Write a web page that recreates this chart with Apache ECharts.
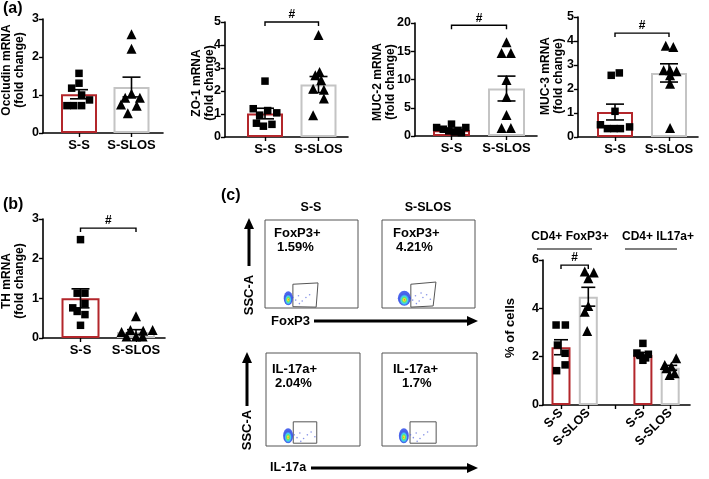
<!DOCTYPE html>
<html><head><meta charset="utf-8">
<script src="https://cdn.jsdelivr.net/npm/echarts@6/dist/echarts.min.js"></script>
<style>html,body{margin:0;padding:0;background:#fff}#c{width:709px;height:479px}</style>
</head><body><div id="c"></div>
<script>
// ================= DATA =================
const groups = ['S-S', 'S-SLOS'];

// (a) Occludin
const occludinTicks = [0, 1, 2, 3];
const occludinMean = [1.02, 1.21];
const occludinSem = [0.12, 0.26];
const occludinSS = [1.57, 1.31, 1.18, 1.0, 0.87, 0.72, 0.72, 0.72];
const occludinSSjit = [0, 0, -0.14, 0.05, 0.2, -0.23, -0.1, 0.05];
const occludinSL = [2.6, 2.22, 1.03, 0.93, 0.93, 0.75, 0.72, 0.52];
const occludinSLjit = [0, 0, 0, -0.12, 0.16, -0.2, 0.1, -0.07];

// (a) ZO-1
const zo1Ticks = [0, 1, 2, 3, 4, 5];
const zo1Mean = [1.02, 2.28];
const zo1Sem = [0.23, 0.35];
const zo1SS = [2.43, 1.23, 1.15, 1.05, 0.95, 0.6, 0.47, 0.55];
const zo1SSjit = [0, -0.22, 0.05, 0.22, -0.1, -0.16, -0.03, 0.13];
const zo1SL = [4.43, 2.83, 2.69, 2.47, 2.1, 2.05, 1.67, 0.95];
const zo1SLjit = [0, 0.02, -0.06, 0.05, -0.1, 0.1, 0.1, -0.1];
const zo1Sig = [1, 2, 5.0];

// (a) MUC-2
const muc2Ticks = [0, 5, 10, 15, 20];
const muc2Mean = [1.0, 8.4];
const muc2Sem = [0.2, 2.2];
const muc2SS = [1.5, 1.2, 2.1, 1.0, 1.5, 0.9, 0.7, 0.6];
const muc2SSjit = [-0.27, -0.15, 0, 0.12, 0.26, -0.05, 0.05, 0.18];
const muc2SL = [16.6, 14.7, 14.7, 9.9, 6.9, 3.7, 1.4, 1.4];
const muc2SLjit = [0, -0.09, 0.08, 0, 0, 0, -0.09, 0.08];
const muc2Sig = [1, 2, 19.6];

// (a) MUC-3
const muc3Ticks = [0, 1, 2, 3, 4, 5];
const muc3Mean = [1.04, 2.67];
const muc3Sem = [0.33, 0.38];
const muc3SS = [2.67, 2.57, 1.07, 0.51, 0.42, 0.35, 0.35, 0.35];
const muc3SSjit = [0.08, -0.07, 0, -0.27, 0.27, -0.14, -0.02, 0.1];
const muc3SL = [3.8, 3.75, 2.78, 2.78, 2.74, 2.57, 2.22, 0.38];
const muc3SLjit = [-0.06, 0.08, -0.1, 0.02, 0.14, 0.02, 0.02, 0.02];
const muc3Sig = [1, 2, 4.33];

// (b) TH
const thTicks = [0, 1, 2, 3];
const thMean = [1.0, 0.15];
const thSem = [0.24, 0.06];
const thSS = [2.48, 1.13, 1.13, 0.87, 0.76, 0.67, 0.59, 0.32];
const thSSjit = [0, -0.06, 0.08, 0.08, -0.14, -0.06, 0.08, 0];
const thSL = [0.55, 0.15, 0.2, 0.18, 0.2, 0.04, 0.04, 0.04];
const thSLjit = [0, -0.26, -0.1, 0.13, 0.3, -0.17, 0, 0.12];
const thSig = [1, 2, 2.77];

// (c) % of cells
const cellTicks = [0, 2, 4, 6];
const cellGroups = ['CD4+ FoxP3+', 'CD4+ IL17a+'];
const cellLabels = ['S-S', 'S-SLOS', 'S-S', 'S-SLOS'];
const cellMean = [2.39, 4.48, 2.07, 1.54];
const cellSem = [0.31, 0.39, 0.1, 0.1];
const foxSS = [3.31, 3.31, 2.48, 2.14, 1.66, 1.42];
const foxSSjit = [-0.18, 0.16, -0.13, 0.15, 0.15, -0.16];
const foxSL = [5.52, 5.48, 5.24, 4.1, 3.86, 3.06];
const foxSLjit = [-0.13, 0.2, 0, 0, -0.13, -0.04];
const il17SS = [2.55, 2.15, 2.1, 2.05, 1.95, 1.85];
const il17SSjit = [0, -0.22, 0.2, -0.1, 0.1, 0];
const il17SL = [1.93, 1.66, 1.59, 1.52, 1.31, 1.24];
const il17SLjit = [0.22, -0.2, 0.04, -0.14, 0.16, -0.02];
const cellSig = [1, 2, 5.79];

// (c) flow plots
const flowTitles = ['S-S', 'S-SLOS'];
const flowMarkers = ['FoxP3+', 'FoxP3+', 'IL-17a+', 'IL-17a+'];
const flowPct = ['1.59%', '4.21%', '2.04%', '1.7%'];
const flowGates = [
  [[30, 27], [57, 28.5], [55, 1], [30, 1.5], [30, 27]],
  [[31, 27], [58, 29.5], [55, 2.3], [31, 1], [31, 27]],
  [[29, 26], [54, 26], [54, 3], [29, 3], [29, 26]],
  [[29.5, 26], [57, 26], [57, 3], [29.5, 3], [29.5, 26]]
];
const flowBlob = [[25, 11], [24, 11], [23.5, 11], [23, 11]];
const flowBlobSize = [[9, 14], [13, 15], [10, 15], [10, 15]];
const flowEvents = [
  [[30, 12], [33, 9], [36, 14], [40, 8], [44, 12], [37, 5], [48, 15]],
  [[30, 12], [33, 9], [36, 14], [40, 8], [44, 12], [37, 5], [48, 15], [52, 10], [42, 17]],
  [[30, 12], [33, 9], [36, 14], [40, 8], [44, 12], [37, 5], [48, 15], [52, 10]],
  [[30, 12], [33, 9], [36, 14], [40, 8], [44, 12], [37, 5], [48, 15]]
];

// ================= LAYOUT / BUILD =================
const F = '"Liberation Sans", Arial, sans-serif';
const RED = '#b3262b', GREY = '#c4c4c4';
const grids = [], xAxes = [], yAxes = [], series = [];

function barPanel(lay, cfg) {
  const idx = grids.length;
  grids.push({left: lay.L, top: lay.top, width: lay.R - lay.L, height: lay.bottom - lay.top});
  const min = cfg.xs[0] - (lay.x0 - lay.L) / lay.unit;
  const max = min + (lay.R - lay.L) / lay.unit;
  xAxes.push({
    gridIndex: idx, type: 'value', min: min, max: max, splitLine: {show: false},
    axisLine: {show: true, onZero: false, lineStyle: {color: '#000', width: 1.6}},
    axisTick: {show: true, customValues: cfg.tickAt, length: 4, lineStyle: {color: '#000', width: 1.4}},
    axisLabel: {customValues: cfg.xs, color: '#000', fontFamily: F, fontWeight: 'bold',
      fontSize: cfg.labelSize, margin: cfg.labelMargin, rotate: cfg.rotate || 0,
      formatter: v => { const i = cfg.xs.indexOf(v); return i >= 0 ? cfg.labels[i] : ''; }}
  });
  const t = cfg.ticks;
  yAxes.push({
    gridIndex: idx, type: 'value', min: t[0], max: t[t.length - 1], interval: t[1] - t[0],
    splitLine: {show: false},
    axisLine: {show: true, lineStyle: {color: '#000', width: 1.6}},
    axisTick: {show: true, length: 4, lineStyle: {color: '#000', width: 1.4}},
    axisLabel: {color: '#000', fontFamily: F, fontWeight: 'bold', fontSize: 12.5, margin: 4}
  });
  series.push({
    type: 'bar', xAxisIndex: idx, yAxisIndex: idx, barWidth: lay.barW, silent: true, z: 2,
    data: cfg.xs.map((x, k) => ({value: [x, cfg.means[k]],
      itemStyle: {color: '#fff', borderColor: cfg.colors[k], borderWidth: 2}}))
  });
  cfg.pts.forEach(g => {
    series.push({
      type: 'scatter', xAxisIndex: idx, yAxisIndex: idx, symbol: g.sym, symbolSize: g.size,
      silent: true, z: 3, itemStyle: {color: '#000', opacity: 1},
      data: g.vals.map((v, k) => [g.x + g.jit[k], v])
    });
  });
  series.push({
    type: 'custom', xAxisIndex: idx, yAxisIndex: idx, silent: true, z: 4, clip: false,
    data: cfg.xs.map((x, k) => [x, cfg.means[k] - cfg.sems[k], cfg.means[k] + cfg.sems[k]]),
    renderItem: (params, api) => {
      const x = api.value(0);
      const lo = api.coord([x, api.value(1)]), hi = api.coord([x, api.value(2)]);
      const c = lay.cap, st = {stroke: '#000', lineWidth: 1.6};
      return {type: 'group', children: [
        {type: 'line', shape: {x1: lo[0], y1: lo[1], x2: hi[0], y2: hi[1]}, style: st},
        {type: 'line', shape: {x1: hi[0] - c, y1: hi[1], x2: hi[0] + c, y2: hi[1]}, style: st},
        {type: 'line', shape: {x1: lo[0] - c, y1: lo[1], x2: lo[0] + c, y2: lo[1]}, style: st}
      ]};
    }
  });
  if (cfg.sig) {
    series.push({
      type: 'custom', xAxisIndex: idx, yAxisIndex: idx, silent: true, z: 4, clip: false,
      data: [cfg.sig],
      renderItem: (params, api) => {
        const y = api.value(2);
        const p1 = api.coord([api.value(0), y]), p2 = api.coord([api.value(1), y]);
        return {type: 'group', children: [
          {type: 'polyline', shape: {points: [[p1[0], p1[1] + 4], [p1[0], p1[1]], [p2[0], p2[1]], [p2[0], p2[1] + 4]]},
            style: {stroke: '#000', lineWidth: 1.4, fill: null}},
          {type: 'text', x: (p1[0] + p2[0]) / 2, y: p1[1] - 7,
            style: {text: '#', font: 'bold 12px ' + F, fill: '#000', align: 'center', verticalAlign: 'middle'}}
        ]};
      }
    });
  }
}

function twoGroup(lay, ticks, mean, sem, ss, ssj, sl, slj, sig) {
  barPanel(lay, {
    xs: [1, 2], labels: groups, tickAt: [1, 2], ticks: ticks, means: mean, sems: sem,
    colors: [RED, GREY], labelSize: 13, labelMargin: 6, sig: sig,
    pts: [{x: 1, vals: ss, jit: ssj, sym: 'rect', size: 7.5},
          {x: 2, vals: sl, jit: slj, sym: 'triangle', size: 10}]
  });
}

twoGroup({L: 43, R: 163, top: 19, bottom: 133, x0: 79, unit: 52.5, barW: 36, cap: 9},
  occludinTicks, occludinMean, occludinSem, occludinSS, occludinSSjit, occludinSL, occludinSLjit, null);
twoGroup({L: 225, R: 348, top: 22, bottom: 137, x0: 265, unit: 53.5, barW: 36, cap: 9},
  zo1Ticks, zo1Mean, zo1Sem, zo1SS, zo1SSjit, zo1SL, zo1SLjit, zo1Sig);
twoGroup({L: 415, R: 537, top: 23, bottom: 136, x0: 451.5, unit: 55, barW: 37, cap: 9},
  muc2Ticks, muc2Mean, muc2Sem, muc2SS, muc2SSjit, muc2SL, muc2SLjit, muc2Sig);
twoGroup({L: 578, R: 698, top: 17, bottom: 137, x0: 615, unit: 54, barW: 36, cap: 9},
  muc3Ticks, muc3Mean, muc3Sem, muc3SS, muc3SSjit, muc3SL, muc3SLjit, muc3Sig);
twoGroup({L: 43, R: 165, top: 219, bottom: 338, x0: 80.5, unit: 55.5, barW: 38, cap: 9},
  thTicks, thMean, thSem, thSS, thSSjit, thSL, thSLjit, thSig);

barPanel({L: 543, R: 690, top: 260, bottom: 405, x0: 561, unit: 27.3, barW: 19, cap: 7}, {
  xs: [1, 2, 4, 5], labels: cellLabels, tickAt: [1, 2, 3, 4, 5], ticks: cellTicks,
  means: cellMean, sems: cellSem, colors: [RED, GREY, RED, GREY],
  labelSize: 12.5, labelMargin: 6, rotate: 45, sig: cellSig,
  pts: [{x: 1, vals: foxSS, jit: foxSSjit, sym: 'rect', size: 7.5},
        {x: 2, vals: foxSL, jit: foxSLjit, sym: 'triangle', size: 10},
        {x: 4, vals: il17SS, jit: il17SSjit, sym: 'rect', size: 7.5},
        {x: 5, vals: il17SL, jit: il17SLjit, sym: 'triangle', size: 10}]
});

// flow plots
const flowLay = [
  {L: 265, R: 358, top: 220, bottom: 308},
  {L: 382, R: 475, top: 220, bottom: 308},
  {L: 266, R: 360, top: 353, bottom: 446},
  {L: 382, R: 477, top: 353, bottom: 446}
];
flowLay.forEach((b, k) => {
  const idx = grids.length;
  grids.push({left: b.L, top: b.top, width: b.R - b.L, height: b.bottom - b.top,
    show: true, borderColor: '#555', borderWidth: 1, backgroundColor: '#fff'});
  xAxes.push({gridIndex: idx, type: 'value', min: 0, max: 100, show: false});
  yAxes.push({gridIndex: idx, type: 'value', min: 0, max: 100, show: false});
  series.push({type: 'line', xAxisIndex: idx, yAxisIndex: idx, silent: true, symbol: 'none',
    lineStyle: {color: '#555', width: 1}, data: flowGates[k], z: 2});
  series.push({type: 'scatter', xAxisIndex: idx, yAxisIndex: idx, silent: true, symbolSize: 1.6,
    itemStyle: {color: '#5566dd', opacity: 0.7}, data: flowEvents[k], z: 2});
  series.push({type: 'scatter', xAxisIndex: idx, yAxisIndex: idx, silent: true,
    symbolSize: flowBlobSize[k], z: 3,
    itemStyle: {color: {type: 'radial', x: 0.5, y: 0.6, r: 0.5, colorStops: [
      {offset: 0, color: '#ff1a00'}, {offset: 0.15, color: '#f0e000'}, {offset: 0.32, color: '#40e040'},
      {offset: 0.5, color: '#10c8f0'}, {offset: 0.75, color: '#1535e0'}, {offset: 1, color: '#2040e8'}]}},
    data: [flowBlob[k]]});
});

// ================= GRAPHIC (text & annotations) =================
const g = [];
function txt(x, y, s, font, opt) {
  g.push(Object.assign({type: 'text', x: x, y: y, silent: true,
    style: Object.assign({text: s, font: font, fill: '#000', align: 'center', verticalAlign: 'middle'}, opt || {})}));
}
function rtxt(x, y, s, font, lh) {
  g.push({type: 'text', x: x, y: y, rotation: Math.PI / 2, silent: true,
    style: {text: s, font: font, fill: '#000', align: 'center', verticalAlign: 'middle', lineHeight: lh || 13}});
}
const TF = 'bold 12px ' + F;
txt(3, 9, '(a)', 'bold 16px ' + F, {align: 'left'});
txt(3, 205, '(b)', 'bold 16px ' + F, {align: 'left'});
txt(221, 196, '(c)', 'bold 16px ' + F, {align: 'left'});
rtxt(13, 70, 'Occludin mRNA\n(fold change)', TF);
rtxt(203, 83, 'ZO-1 mRNA\n(fold change)', TF);
rtxt(384, 82, 'MUC-2 mRNA\n(fold change)', TF);
rtxt(552, 76, 'MUC-3 mRNA\n(fold change)', TF);
rtxt(13, 281, 'TH mRNA\n(fold change)', TF);
rtxt(510, 328, '% of cells', 'bold 13px ' + F);

// flow texts
const FF = 'bold 13px ' + F;
txt(311, 208, flowTitles[0], 'bold 12.5px ' + F);
txt(428, 208, flowTitles[1], 'bold 12.5px ' + F);
[[274, 233, 277, 247], [393, 233, 396, 247], [272, 369, 275, 383], [393, 369, 402, 383]].forEach((p, k) => {
  txt(p[0], p[1], flowMarkers[k], FF, {align: 'left'});
  txt(p[2], p[3], flowPct[k], FF, {align: 'left'});
});
function arrowV(x, y1, y2) {
  g.push({type: 'line', silent: true, shape: {x1: x, y1: y1, x2: x, y2: y2 + 8}, style: {stroke: '#000', lineWidth: 3}});
  g.push({type: 'polygon', silent: true, shape: {points: [[x, y2], [x - 5, y2 + 11], [x + 5, y2 + 11]]}, style: {fill: '#000'}});
}
function arrowH(y, x1, x2) {
  g.push({type: 'line', silent: true, shape: {x1: x1, y1: y, x2: x2 - 8, y2: y}, style: {stroke: '#000', lineWidth: 3}});
  g.push({type: 'polygon', silent: true, shape: {points: [[x2, y], [x2 - 11, y - 5], [x2 - 11, y + 5]]}, style: {fill: '#000'}});
}
arrowV(249, 266, 218);
rtxt(249, 295, 'SSC-A', FF);
txt(271, 321, 'FoxP3', FF, {align: 'left'});
arrowH(321, 314, 478);
arrowV(247, 406, 352);
rtxt(247, 430, 'SSC-A', FF);
txt(270, 468, 'IL-17a', 'bold 12.5px ' + F, {align: 'left'});
arrowH(468, 311, 478);

// group headers in (c)
txt(570, 237, cellGroups[0], 'bold 12px ' + F);
txt(658, 237, cellGroups[1], 'bold 12px ' + F);
g.push({type: 'line', silent: true, shape: {x1: 537, y1: 249, x2: 592, y2: 249}, style: {stroke: '#000', lineWidth: 1.2}});
g.push({type: 'line', silent: true, shape: {x1: 625, y1: 249, x2: 677, y2: 249}, style: {stroke: '#000', lineWidth: 1.2}});

const chart = echarts.init(document.getElementById('c'), null, {renderer: 'canvas'});
chart.setOption({
  animation: false, backgroundColor: '#fff',
  grid: grids, xAxis: xAxes, yAxis: yAxes, series: series, graphic: g
});
</script></body></html>
